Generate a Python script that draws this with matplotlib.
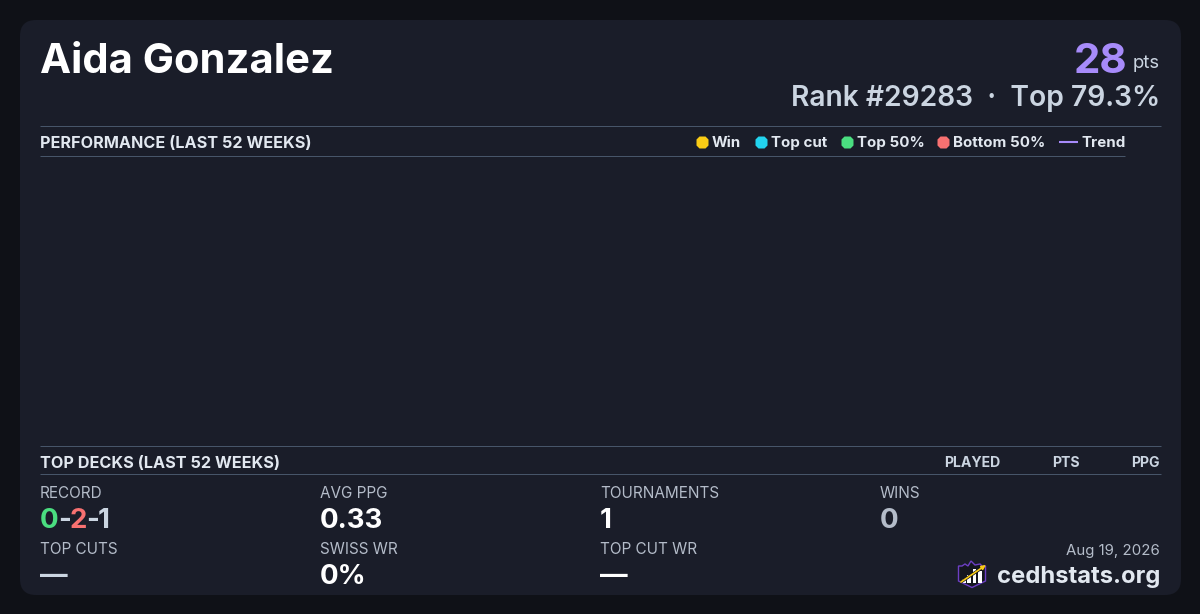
import matplotlib
matplotlib.use("Agg")
import matplotlib.pyplot as plt
from matplotlib.patches import FancyBboxPatch, Polygon, Rectangle

plt.rcParams['font.family'] = ['Inter', 'Noto Sans', 'DejaVu Sans']

player_name = "Aida Gonzalez"
points = "28"
rank_line = "Rank #29283  ·  Top 79.3%"
section_top = "PERFORMANCE (LAST 52 WEEKS)"
section_bottom = "TOP DECKS (LAST 52 WEEKS)"
legend_labels = ["Win", "Top cut", "Top 50%", "Bottom 50%"]
legend_colors = ["#facc15", "#22d3ee", "#4ade80", "#f87171"]
trend_label = "Trend"
deck_columns = ["PLAYED", "PTS", "PPG"]
record_parts = ["0", "-", "2", "-", "1"]
record_colors = ["#4ade80", "#cbd5e1", "#f87171", "#cbd5e1", "#cbd5e1"]
stat_labels_row1 = ["AVG PPG", "TOURNAMENTS", "WINS"]
stat_values_row1 = ["0.33", "1", "0"]
stat_labels_row2 = ["TOP CUTS", "SWISS WR", "TOP CUT WR"]
stat_values_row2 = ["—", "0%", "—"]
date_text = "Aug 19, 2026"
site_text = "cedhstats.org"

BG, CARD, LINE = "#0f1117", "#1a1d29", "#475569"
WHITE, SOFT, MUTED, HEAD = "#ffffff", "#cbd5e1", "#b4bcc9", "#e2e8f0"
PURPLE = "#a78bfa"


def fs(px):
    return px * 0.72


fig = plt.figure(figsize=(12, 6.14), dpi=100, facecolor=BG)
ax = fig.add_axes([0, 0, 1, 1])
ax.set_xlim(0, 1200)
ax.set_ylim(614, 0)
ax.axis("off")

ax.add_patch(FancyBboxPatch((36, 36), 1181 - 20 - 32, 595 - 20 - 32,
                            boxstyle="round,pad=16,rounding_size=16", fc=CARD, ec="none"))


def put(x, y, s, px, weight=400, color=WHITE, ha="left"):
    return ax.text(x, y, s, fontsize=fs(px), fontweight=weight, color=color,
                   ha=ha, va="baseline")


put(40, 73, player_name, 41.7, 700)
put(1160, 68, "pts", 18.5, 400, SOFT, "right")
put(1127, 73, points, 42, 700, PURPLE, "right")
put(1160, 106, rank_line, 28.2, 600, SOFT, "right")

for y, x1 in [(126, 1160.5), (156, 1125), (446, 1160.5), (474, 1160.5)]:
    ax.plot([40, x1], [y, y], color=LINE, lw=0.72, solid_capstyle="butt")

put(40, 148, section_top, 16.2, 700, HEAD)
put(40, 468, section_bottom, 16.2, 700, HEAD)

legend_x = [696, 755, 841, 937]
for x, lab, col in zip(legend_x, legend_labels, legend_colors):
    ax.plot([x + 6.2], [141.5], "8", ms=10, color=col, mec="none")
    put(x + 16, 147, lab, 15.1, 700, HEAD)
ax.plot([1059, 1078], [141.5, 141.5], color=PURPLE, lw=1.5, solid_capstyle="butt")
put(1081, 147, trend_label, 15.1, 700, HEAD)

for xr, lab in zip([1000, 1080, 1160], deck_columns):
    put(xr, 467, lab, 14.1, 700, SOFT, "right")

fig.canvas.draw()
renderer = fig.canvas.get_renderer()
put(40, 497.5, "RECORD", 15.3, 400, MUTED)
x = 40.0
for part, col in zip(record_parts, record_colors):
    t = put(x, 528, part, 27.6, 700, col)
    bb = t.get_window_extent(renderer)
    x = bb.x1 - 1.0

for x, lab, val in zip([320, 600, 880], stat_labels_row1, stat_values_row1):
    put(x, 497.5, lab, 15.3, 400, MUTED)
    put(x, 528, val, 27.6, 700, MUTED if lab == "WINS" else WHITE)

for x, lab, val in zip([40, 320, 600], stat_labels_row2, stat_values_row2):
    put(x, 553.5, lab, 15.3, 400, MUTED)
    put(x, 584, val, 27.6, 700, SOFT if x == 40 else WHITE)

put(1160, 555, date_text, 15, 400, MUTED, "right")
put(1160, 583, site_text, 23.8, 700, HEAD, "right")

# logo
shield = [(958.5, 566), (962, 566), (965, 564), (968, 566), (971, 561), (975, 565),
          (980, 564), (982, 566), (985.5, 566), (985.5, 581), (972, 587.5), (958.5, 581)]
ax.add_patch(Polygon(shield, closed=True, fc="#14161f", ec="#6d3fc4", lw=1.0))
for bx, top in zip([962, 967, 972.5, 978], [579, 575, 569, 571]):
    ax.add_patch(Rectangle((bx, top), 3.5, 583 - top, fc="white", ec="none"))
ax.plot([961, 984], [582, 566.5], color="#14161f", lw=2.2, solid_capstyle="butt")
ax.annotate("", xy=(986, 565), xytext=(961, 582),
            arrowprops=dict(arrowstyle="-|>", color="#facc15", lw=1.2, mutation_scale=6, shrinkA=0, shrinkB=0))

fig.savefig("out.png", dpi=100, facecolor=BG)
